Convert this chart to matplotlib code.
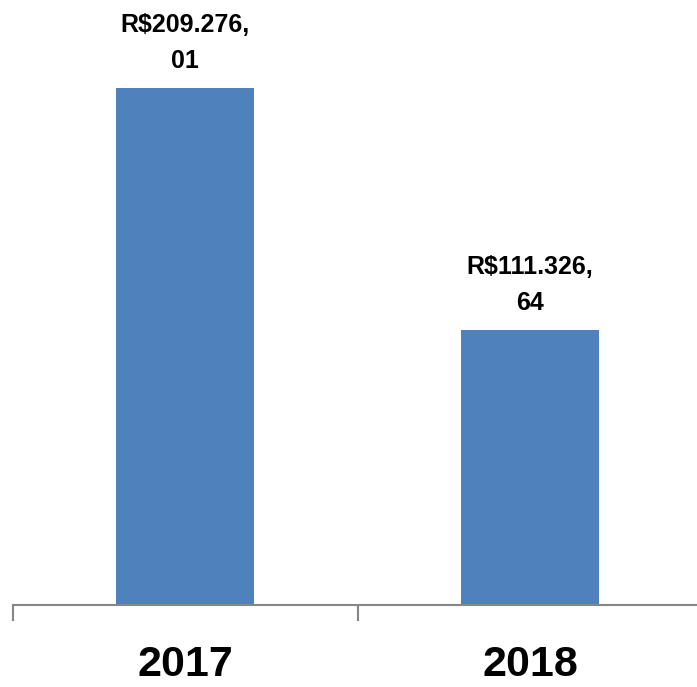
import matplotlib.pyplot as plt

# values
years = ["2017", "2018"]
values = [209276.01, 111326.64]
labels = ["R$209.276,\n01", "R$111.326,\n64"]

plt.rcParams['font.family'] = ['Liberation Sans', 'DejaVu Sans']

W, H = 697, 687
fig = plt.figure(figsize=(W / 100, H / 100), dpi=100)

# axes span from x=12.5px to past the right edge, baseline at y=605px
ymax = 240000
px_per_unit = 517 / 209276.01
ax_h = ymax * px_per_unit
ax = fig.add_axes([12.5 / W, (H - 605) / H, 690 / W, ax_h / H])

x = range(len(years))
ax.bar(x, values, width=0.4, color="#4F81BD", zorder=2)

for xi, v, lab in zip(x, values, labels):
    ax.annotate(lab, (xi, v), xytext=(0, 11), textcoords="offset points",
                ha="center", va="bottom", fontsize=18, fontweight="bold",
                linespacing=1.6, color="black")

ax.set_xlim(-0.5, 1.5)
ax.set_ylim(0, ymax)

for s in ["top", "right", "left"]:
    ax.spines[s].set_visible(False)
ax.spines["bottom"].set_color("#868686")
ax.spines["bottom"].set_linewidth(1.5)

ax.set_yticks([])
ax.set_xticks(list(x))
ax.set_xticklabels(years, fontsize=31, fontweight="bold")
ax.tick_params(axis="x", which="major", length=0, pad=29)
ax.set_xticks([-0.5, 0.5, 1.5], minor=True)
ax.tick_params(axis="x", which="minor", length=11.5, width=1.5,
               color="#868686", direction="out")

fig.savefig("out.png", dpi=100)
